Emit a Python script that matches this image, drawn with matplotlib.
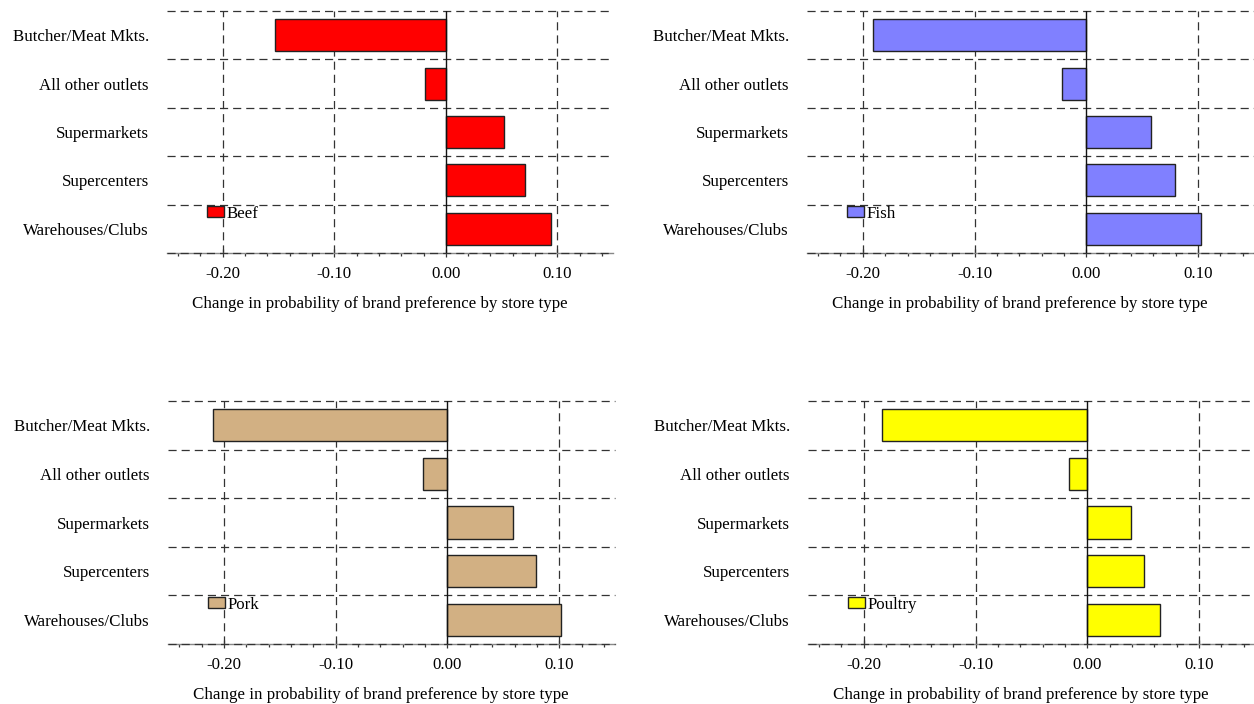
import numpy as np
import matplotlib.pyplot as plt
from matplotlib.ticker import MultipleLocator, FixedLocator

plt.rcParams['font.family'] = ['Liberation Serif', 'DejaVu Serif']
plt.rcParams['font.size'] = 12.2

stores = ['Butcher/Meat Mkts.', 'All other outlets', 'Supermarkets',
          'Supercenters', 'Warehouses/Clubs']

beef = [-0.153, -0.019, 0.052, 0.071, 0.094]
fish = [-0.191, -0.022, 0.058, 0.079, 0.103]
pork = [-0.210, -0.022, 0.059, 0.079, 0.102]
poultry = [-0.184, -0.016, 0.039, 0.051, 0.065]

meats = ['Beef', 'Fish', 'Pork', 'Poultry']
colors = ['#ff0000', '#8080ff', '#d2b083', '#ffff00']
series = [beef, fish, pork, poultry]

# axes boxes in figure fractions (left, bottom, width, height)
boxes = [
    [0.1332, 0.6406, 0.3557, 0.3438],
    [0.6435, 0.6406, 0.3565, 0.3438],
    [0.1340, 0.0852, 0.3565, 0.3452],
    [0.6443, 0.0852, 0.3565, 0.3452],
]

fig = plt.figure(figsize=(12.54, 7.04), dpi=100)
dash = (0, (6.5, 4))
gcol = '#333333'

for name, vals, col, box in zip(meats, series, colors, boxes):
    ax = fig.add_axes(box)
    y = np.arange(len(stores))
    ax.barh(y, vals, height=0.66, color=col, edgecolor='#222222',
            linewidth=1.0, label=name, zorder=3)
    ax.set_xlim(-0.25, 0.15)
    ax.set_ylim(len(stores) - 0.5, -0.5)

    # category separators
    for b in np.arange(-0.5, len(stores) - 0.5, 1.0):
        ax.axhline(b, color=gcol, lw=0.9, ls=dash, zorder=1, clip_on=False)
    ax.axhline(len(stores) - 0.5, color=gcol, lw=0.9, ls=dash, zorder=4, clip_on=False)
    for v in [-0.2, -0.1, 0.1]:
        ax.axvline(v, color=gcol, lw=0.9, ls=dash, zorder=1)
    ax.axvline(0.0, color='#111111', lw=1.0, zorder=4)

    for s in ['top', 'left', 'right']:
        ax.spines[s].set_visible(False)
    ax.spines['bottom'].set_color('#888888')
    ax.spines['bottom'].set_linewidth(1.0)

    ax.set_yticks(y)
    ax.set_yticklabels(stores)
    ax.tick_params(axis='y', length=0, pad=13)
    ax.xaxis.set_major_locator(FixedLocator([-0.2, -0.1, 0.0, 0.1]))
    ax.xaxis.set_minor_locator(MultipleLocator(0.02))
    ax.set_xticklabels(['-0.20', '-0.10', '0.00', '0.10'])
    ax.tick_params(axis='x', which='major', direction='inout', length=6,
                   width=0.9, color=gcol, pad=6)
    ax.tick_params(axis='x', which='minor', direction='out', length=2.5,
                   width=0.9, color=gcol)
    ax.set_xlabel('Change in probability of brand preference by store type',
                  labelpad=10.5)
    ax.xaxis.label.set_x(0.477)

    ax.legend(loc='center left', bbox_to_anchor=(0.09, 0.162), frameon=False,
              handlelength=1.0, handleheight=0.6, handletextpad=0.12,
              borderpad=0, borderaxespad=0)

fig.savefig('out.png', dpi=100)
